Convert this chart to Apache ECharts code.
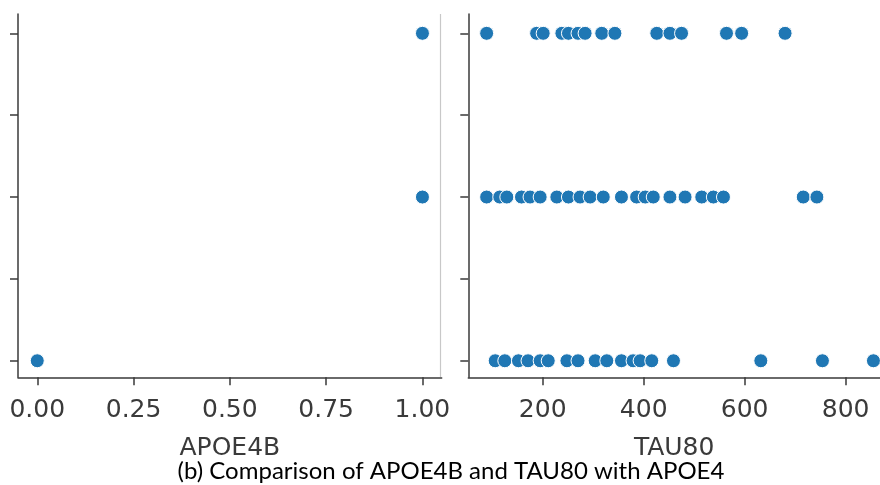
<!DOCTYPE html>
<html>
<head>
<meta charset="utf-8">
<script src="https://cdn.jsdelivr.net/npm/echarts@6/dist/echarts.min.js"></script>
<style>
html,body{margin:0;padding:0;background:#fff;}
#c{width:880px;height:485px;}
</style>
</head>
<body>
<div id="c"></div>
<script>
// Left panel: APOE4B vs APOE4
const apoe4bX = [0, 1, 1];
const apoe4bY = [0, 1, 2];
// Right panel: TAU80 values per APOE4 level
const tauApoe2 = [89, 188, 201, 238, 251, 270, 284, 317, 343, 426, 452, 475, 564, 594, 680];
const tauApoe1 = [89, 115, 129, 158, 175, 195, 228, 251, 274, 294, 320, 356, 386, 403, 419, 452, 482, 515, 538, 558, 716, 743];
const tauApoe0 = [106, 125, 152, 171, 195, 211, 248, 270, 304, 327, 356, 379, 393, 416, 459, 632, 754, 855];
const yTicks = [0, 0.5, 1, 1.5, 2];
const leftXTicks = [0, 0.25, 0.5, 0.75, 1];
const rightXTicks = [200, 400, 600, 800];
const caption = '(b) Comparison of APOE4B and TAU80 with APOE4';

const leftData = apoe4bX.map((x, i) => [x, apoe4bY[i]]);
const rightData = [].concat(
  tauApoe2.map(v => [v, 2]),
  tauApoe1.map(v => [v, 1]),
  tauApoe0.map(v => [v, 0])
);

const axisColor = '#3a3a3a';
const labelFont = {fontFamily: 'DejaVu Sans', fontSize: 25, color: '#3a3a3a'};
const lineStyle = {color: axisColor, width: 1.5};
const markerStyle = {color: '#1f77b4', borderColor: '#ffffff', borderWidth: 1, opacity: 1};

const chart = echarts.init(document.getElementById('c'), null, {renderer: 'canvas'});
chart.setOption({
  animation: false,
  backgroundColor: '#ffffff',
  grid: [
    {left: 18, top: 14, width: 423.7, height: 363.3},
    {left: 468.3, top: 14, width: 411.7, height: 363.3}
  ],
  xAxis: [
    {
      gridIndex: 0, type: 'value', min: -0.05, max: 1.05,
      axisLine: {show: true, onZero: false, lineStyle: lineStyle},
      axisTick: {show: true, length: 8, lineStyle: lineStyle, customValues: leftXTicks},
      axisLabel: {customValues: leftXTicks, margin: 21, formatter: v => v.toFixed(2), ...labelFont},
      splitLine: {show: false},
      name: 'APOE4B', nameLocation: 'middle', nameGap: 59,
      nameTextStyle: labelFont
    },
    {
      gridIndex: 1, type: 'value', min: 52.7, max: 868,
      axisLine: {show: true, onZero: false, lineStyle: lineStyle},
      axisTick: {show: true, length: 8, lineStyle: lineStyle, customValues: rightXTicks},
      axisLabel: {customValues: rightXTicks, margin: 21, ...labelFont},
      splitLine: {show: false},
      name: 'TAU80', nameLocation: 'middle', nameGap: 59,
      nameTextStyle: labelFont
    }
  ],
  yAxis: [
    {
      gridIndex: 0, type: 'value', min: -0.101, max: 2.118,
      axisLine: {show: true, onZero: false, lineStyle: lineStyle},
      axisTick: {show: true, length: 8, lineStyle: lineStyle, customValues: yTicks},
      axisLabel: {show: false},
      splitLine: {show: false}
    },
    {
      gridIndex: 1, type: 'value', min: -0.101, max: 2.118,
      axisLine: {show: true, onZero: false, lineStyle: lineStyle},
      axisTick: {show: true, length: 8, lineStyle: lineStyle, customValues: yTicks},
      axisLabel: {show: false},
      splitLine: {show: false}
    }
  ],
  series: [
    {type: 'scatter', xAxisIndex: 0, yAxisIndex: 0, data: leftData, symbolSize: 14, itemStyle: markerStyle},
    {type: 'scatter', xAxisIndex: 1, yAxisIndex: 1, data: rightData, symbolSize: 14, itemStyle: markerStyle, clip: false}
  ],
  graphic: [
    {type: 'line', shape: {x1: 440.5, y1: 14, x2: 440.5, y2: 377}, style: {stroke: '#c8c8c8', lineWidth: 1.2}},
    {type: 'text', x: 451, y: 471, style: {text: caption, fontFamily: 'Lato', fontSize: 24, fill: '#000', textAlign: 'center', textVerticalAlign: 'middle'}}
  ]
});
</script>
</body>
</html>
